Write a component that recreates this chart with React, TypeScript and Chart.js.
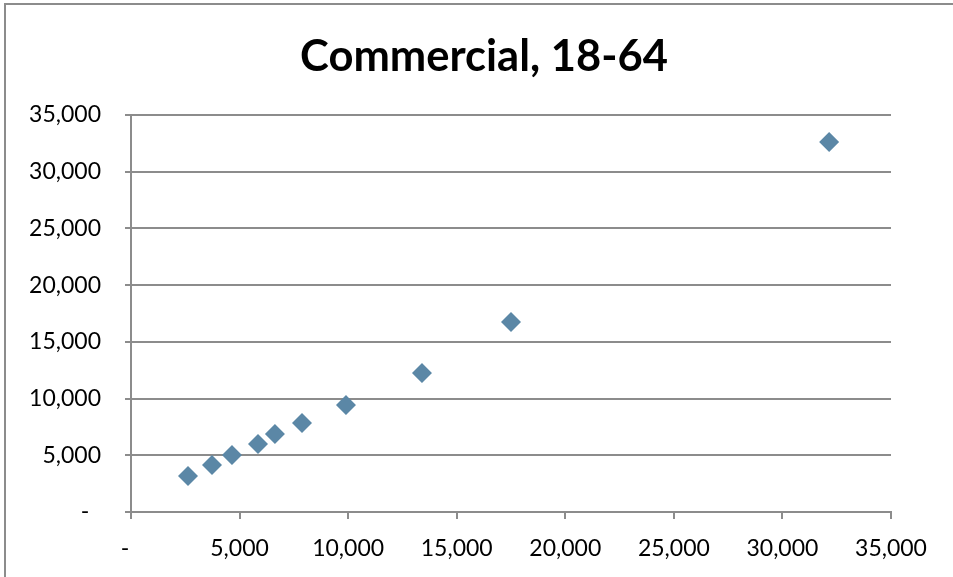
import React, { useEffect, useRef } from "react";
import { Chart, registerables } from "chart.js";

Chart.register(...registerables);

const TITLE = "Commercial, 18-64";
const xValues = [2625, 3730, 4650, 5850, 6630, 7875, 9900, 13400, 17500, 32150];
const yValues = [3175, 4145, 5025, 5995, 6880, 7845, 9430, 12250, 16750, 32620];
const AXIS_MIN = 0;
const AXIS_MAX = 35000;
const AXIS_STEP = 5000;

const FONT = "Lato, 'Open Sans', sans-serif";

const fmt = (v: number) => (v === 0 ? "-  " : Number(v).toLocaleString("en-US"));

const titlePlugin = {
  id: "customTitle",
  afterDraw(chart: any) {
    const ctx = chart.ctx;
    ctx.save();
    ctx.font = `bold 43.5px ${FONT}`;
    ctx.fillStyle = "#000";
    ctx.textAlign = "center";
    ctx.textBaseline = "alphabetic";
    ctx.fillText(TITLE, 484, 71);
    ctx.restore();
  },
};

export default function App() {
  const ref = useRef<HTMLCanvasElement | null>(null);
  useEffect(() => {
    if (!ref.current) return;
    const data = xValues.map((x, i) => ({ x, y: yValues[i] }));
    const chart = new Chart(ref.current, {
      type: "scatter",
      data: {
        datasets: [
          {
            data,
            pointStyle: "rectRot",
            pointRadius: 10,
            pointHoverRadius: 10,
            backgroundColor: "#5B87A6",
            borderColor: "#5B87A6",
            borderWidth: 0,
          },
        ],
      },
      options: {
        animation: false,
        responsive: false,
        maintainAspectRatio: false,
        layout: { padding: { top: 115, right: 62, left: 0, bottom: 0 } },
        plugins: { legend: { display: false }, tooltip: { enabled: false }, title: { display: false } },
        scales: {
          x: {
            type: "linear",
            min: AXIS_MIN,
            max: AXIS_MAX,
            afterFit: (s: any) => { s.height = 65; },
            ticks: {
              stepSize: AXIS_STEP,
              callback: (v: any) => fmt(v),
              color: "#000",
              font: { family: FONT, size: 23 },
              padding: 16,
              maxRotation: 0,
            },
            grid: { drawOnChartArea: false, drawTicks: true, tickLength: 7, color: "#8c8c8c", lineWidth: 2 },
            border: { display: true, color: "#8c8c8c", width: 2 },
          },
          y: {
            type: "linear",
            min: AXIS_MIN,
            max: AXIS_MAX,
            afterFit: (s: any) => { s.width = 131; },
            ticks: {
              stepSize: AXIS_STEP,
              callback: (v: any) => fmt(v),
              color: "#000",
              font: { family: FONT, size: 23 },
              padding: 24,
            },
            grid: { drawOnChartArea: true, drawTicks: true, tickLength: 6, color: "#8c8c8c", lineWidth: 2 },
            border: { display: true, color: "#8c8c8c", width: 2 },
          },
        },
      },
      plugins: [titlePlugin],
    });
    return () => chart.destroy();
  }, []);

  return (
    <div style={{ position: "fixed", left: 0, top: 0, width: 953, height: 577, background: "#fff", overflow: "hidden" }}>
      <div
        style={{
          position: "absolute",
          left: 4,
          top: 3,
          width: 1000,
          height: 1000,
          borderLeft: "2px solid #8c8c8c",
          borderTop: "2px solid #8c8c8c",
        }}
      />
      <canvas ref={ref} width={953} height={577} style={{ position: "absolute", left: 0, top: 0, width: 953, height: 577 }} />
    </div>
  );
}
